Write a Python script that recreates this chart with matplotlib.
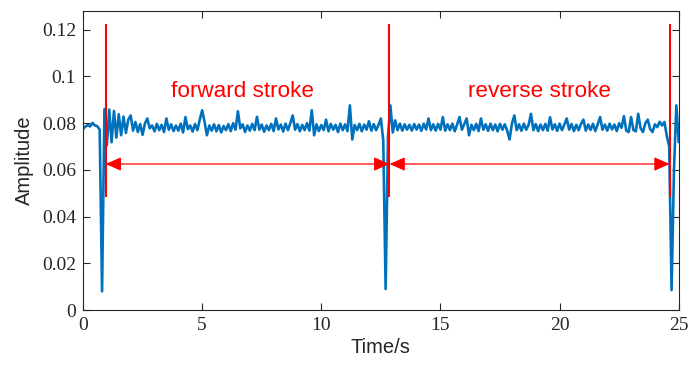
import numpy as np
import matplotlib
matplotlib.use("Agg")
import matplotlib.pyplot as plt

# amplitude samples, 0.1 s apart, one row per second
amp = [
    0.0775, 0.0785, 0.0792, 0.0786, 0.0801, 0.0790, 0.0787, 0.0772, 0.0080, 0.0860,
    0.0705, 0.0858, 0.0718, 0.0852, 0.0738, 0.0838, 0.0748, 0.0828, 0.0758, 0.0815,
    0.0833, 0.0768, 0.0805, 0.0762, 0.0796, 0.0750, 0.0799, 0.0820, 0.0778, 0.0790,
    0.0765, 0.0797, 0.0770, 0.0793, 0.0762, 0.0820, 0.0772, 0.0795, 0.0766, 0.0790,
    0.0768, 0.0798, 0.0760, 0.0826, 0.0774, 0.0790, 0.0764, 0.0796, 0.0770, 0.0815,
    0.0855, 0.0806, 0.0748, 0.0790, 0.0768, 0.0795, 0.0765, 0.0792, 0.0760, 0.0788,
    0.0770, 0.0796, 0.0766, 0.0800, 0.0772, 0.0851, 0.0778, 0.0795, 0.0762, 0.0790,
    0.0768, 0.0797, 0.0770, 0.0827, 0.0772, 0.0794, 0.0763, 0.0790, 0.0770, 0.0797,
    0.0766, 0.0820, 0.0773, 0.0794, 0.0764, 0.0798, 0.0770, 0.0800, 0.0833, 0.0772,
    0.0796, 0.0765, 0.0793, 0.0770, 0.0800, 0.0768, 0.0855, 0.0748, 0.0795, 0.0766,
    0.0792, 0.0770, 0.0815, 0.0765, 0.0797, 0.0772, 0.0793, 0.0762, 0.0798, 0.0770,
    0.0795, 0.0766, 0.0876, 0.0730, 0.0792, 0.0770, 0.0797, 0.0765, 0.0794, 0.0772,
    0.0808, 0.0768, 0.0796, 0.0770, 0.0792, 0.0820, 0.0726, 0.0090, 0.0745, 0.0876,
    0.0760, 0.0812, 0.0770, 0.0798, 0.0768, 0.0795, 0.0772, 0.0793, 0.0768, 0.0796,
    0.0772, 0.0794, 0.0767, 0.0798, 0.0773, 0.0820, 0.0770, 0.0795, 0.0768, 0.0797,
    0.0772, 0.0826, 0.0768, 0.0795, 0.0770, 0.0798, 0.0765, 0.0794, 0.0826, 0.0772,
    0.0796, 0.0820, 0.0748, 0.0793, 0.0770, 0.0797, 0.0766, 0.0820, 0.0772, 0.0795,
    0.0767, 0.0798, 0.0770, 0.0794, 0.0765, 0.0797, 0.0772, 0.0795, 0.0768, 0.0730,
    0.0798, 0.0833, 0.0770, 0.0795, 0.0767, 0.0798, 0.0772, 0.0793, 0.0840, 0.0770,
    0.0796, 0.0766, 0.0794, 0.0770, 0.0797, 0.0768, 0.0825, 0.0773, 0.0795, 0.0767,
    0.0798, 0.0770, 0.0794, 0.0820, 0.0772, 0.0796, 0.0766, 0.0793, 0.0770, 0.0797,
    0.0815, 0.0768, 0.0794, 0.0771, 0.0797, 0.0766, 0.0795, 0.0826, 0.0772, 0.0794,
    0.0768, 0.0798, 0.0773, 0.0794, 0.0766, 0.0800, 0.0780, 0.0830, 0.0768, 0.0762,
    0.0826, 0.0770, 0.0765, 0.0840, 0.0778, 0.0762, 0.0800, 0.0815, 0.0775, 0.0762,
    0.0795, 0.0783, 0.0806, 0.0790, 0.0805, 0.0745, 0.0700, 0.0085, 0.0600, 0.0876,
    0.0720,
]
t = np.arange(len(amp)) * 0.1

# stroke boundaries (red markers) and annotation settings
marks = [0.95, 12.86, 24.62]
mark_lo, mark_hi = 0.049, 0.122
arrow_y = 0.0625
labels = ["forward stroke", "reverse stroke"]
label_x = [6.7, 19.16]
label_y = 0.0935

xticks = [0, 5, 10, 15, 20, 25]
yticks = [0, 0.02, 0.04, 0.06, 0.08, 0.1, 0.12]
yticklabels = ["0", "0.02", "0.04", "0.06", "0.08", "0.1", "0.12"]

fig = plt.figure(figsize=(6.94, 3.68), dpi=100)
ax = fig.add_axes([0.1196, 0.1576, 0.8584, 0.8124])

ax.plot(t, amp, color="#0072BD", lw=1.9)

for m in marks:
    ax.plot([m, m], [mark_lo, mark_hi], color="red", lw=1.5)

for a, b in zip(marks[:-1], marks[1:]):
    ax.annotate("", xy=(b, arrow_y), xytext=(a, arrow_y),
                arrowprops=dict(arrowstyle="<|-|>,head_length=0.95,head_width=0.42",
                                color="red", lw=0.9, mutation_scale=10,
                                shrinkA=0, shrinkB=0))

for s, x in zip(labels, label_x):
    ax.text(x, label_y, s, color="red", fontsize=16.2, family="Liberation Sans",
            ha="center", va="center")

ax.set_xlim(0, 25)
ax.set_ylim(0, 0.128)
ax.set_xticks(xticks)
ax.set_xticklabels([str(v) for v in xticks], family="Liberation Serif", fontsize=14)
ax.set_yticks(yticks)
ax.set_yticklabels(yticklabels, family="Liberation Serif", fontsize=14)
ax.tick_params(direction="in", length=5, width=0.8, colors="#262626",
               top=True, right=True, pad=5)
for sp in ax.spines.values():
    sp.set_color("#262626")
    sp.set_linewidth(0.8)

ax.set_xlabel("Time/s", family="Liberation Sans", fontsize=14.5, color="#262626", labelpad=3)
ax.set_ylabel("Amplitude", family="Liberation Sans", fontsize=14.5, color="#262626", labelpad=6)

fig.savefig("out.png", dpi=100)
